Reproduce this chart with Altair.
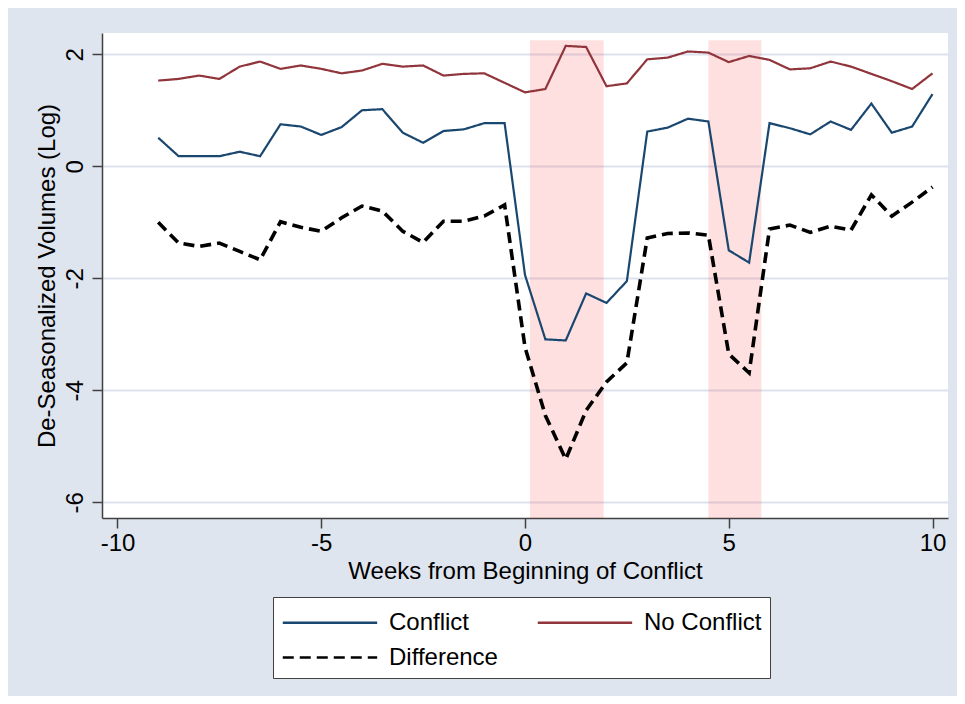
import altair as alt
import pandas as pd

weeks = [-9, -8.5, -8, -7.5, -7, -6.5, -6, -5.5, -5, -4.5, -4, -3.5, -3, -2.5, -2, -1.5, -1, -0.5,
         0, 0.5, 1, 1.5, 2, 2.5, 3, 3.5, 4, 4.5, 5, 5.5, 6, 6.5, 7, 7.5, 8, 8.5, 9, 9.5, 10]

conflict = [0.51, 0.18, 0.18, 0.18, 0.26, 0.18, 0.75, 0.71, 0.56, 0.70, 1.00, 1.02, 0.60, 0.42, 0.63, 0.66, 0.77, 0.77,
            -1.94, -3.09, -3.11, -2.27, -2.44, -2.05, 0.62, 0.69, 0.85, 0.80, -1.50, -1.72, 0.77, 0.68, 0.57, 0.80,
            0.65, 1.12, 0.60, 0.71, 1.29]

no_conflict = [1.53, 1.56, 1.62, 1.56, 1.78, 1.87, 1.74, 1.80, 1.74, 1.66, 1.71, 1.83, 1.78, 1.80, 1.62, 1.65, 1.66, 1.49,
               1.32, 1.38, 2.15, 2.13, 1.43, 1.48, 1.91, 1.94, 2.05, 2.03, 1.86, 1.97, 1.90, 1.73, 1.75, 1.87,
               1.78, 1.65, 1.52, 1.38, 1.66]

difference = [-1.00, -1.37, -1.43, -1.37, -1.52, -1.67, -0.99, -1.09, -1.16, -0.92, -0.71, -0.80, -1.16, -1.36, -0.98, -0.98, -0.89, -0.69,
              -3.23, -4.45, -5.23, -4.36, -3.85, -3.51, -1.28, -1.20, -1.19, -1.23, -3.35, -3.69, -1.12, -1.05, -1.18, -1.07,
              -1.14, -0.51, -0.89, -0.64, -0.37]

series_names = ["Conflict", "No Conflict", "Difference"]
series_colors = ["#1a476f", "#90353b", "#000000"]
series_dash = [[1, 0], [1, 0], [11, 6]]

shade_start = [0.12, 4.5]
shade_end = [1.93, 5.8]
shade_top = [2.25, 2.25]

x_domain = [-10.38, 10.38]
y_domain = [-6.28, 2.38]
x_ticks = [-10, -5, 0, 5, 10]
y_ticks = [-6, -4, -2, 0, 2]

rows = []
for name, vals in zip(series_names, [conflict, no_conflict, difference]):
    for w, v in zip(weeks, vals):
        rows.append({"week": w, "value": v, "series": name})
df = pd.DataFrame(rows)

shade_df = pd.DataFrame({"x1": shade_start, "x2": shade_end, "top": shade_top,
                         "bottom": [y_domain[0]] * len(shade_start)})

FONT = "Liberation Sans"

x_scale = alt.Scale(domain=x_domain, nice=False, zero=False)
y_scale = alt.Scale(domain=y_domain, nice=False, zero=False)

x_axis = alt.Axis(values=x_ticks, title="Weeks from Beginning of Conflict",
                  grid=False, tickSize=10, labelPadding=3, titlePadding=4,
                  labelExpr="'' + datum.value")
y_axis = alt.Axis(values=y_ticks, title="De-Seasonalized Volumes (Log)",
                  grid=True, tickSize=10, labelAngle=270, labelAlign="center",
                  labelBaseline="alphabetic", labelPadding=10, titlePadding=4,
                  labelExpr="'' + datum.value")

shade = alt.Chart(shade_df).mark_rect(color="#ff0000", opacity=0.12).encode(
    x=alt.X("x1:Q", scale=x_scale, axis=x_axis, title="Weeks from Beginning of Conflict"),
    x2="x2:Q",
    y=alt.Y("bottom:Q", scale=y_scale, axis=y_axis, title="De-Seasonalized Volumes (Log)"),
    y2="top:Q",
)

legend = alt.Legend(title=None, orient="none", legendX=171, legendY=564,
                    direction="horizontal", columns=2,
                    symbolType="M-1,0H5", symbolSize=990,
                    symbolStrokeWidth=2.6, labelFontSize=24, labelFont=FONT,
                    labelColor="#000000", labelOffset=73, columnPadding=34,
                    rowPadding=5, padding=8, fillColor="#ffffff",
                    strokeColor="#404040", labelLimit=300)

base = alt.Chart(df).encode(
    x=alt.X("week:Q", scale=x_scale, axis=x_axis, title="Weeks from Beginning of Conflict"),
    y=alt.Y("value:Q", scale=y_scale, axis=y_axis, title="De-Seasonalized Volumes (Log)"),
    color=alt.Color("series:N", scale=alt.Scale(domain=series_names, range=series_colors),
                    legend=legend),
    strokeDash=alt.StrokeDash("series:N",
                              scale=alt.Scale(domain=series_names, range=series_dash),
                              legend=legend),
    order=alt.Order("week:Q"),
)

solid_lines = base.transform_filter(alt.datum.series != "Difference").mark_line(strokeWidth=2.2)
diff_line = base.transform_filter(alt.datum.series == "Difference").mark_line(strokeWidth=3.6)

chart = alt.layer(shade, solid_lines, diff_line).properties(
    width=846,
    height=485,
    padding={"left": 94, "top": 25, "right": 9, "bottom": 178},
    autosize=alt.AutoSizeParams(type="none"),
    background="#dfe5ef",
).configure_view(
    fill="#ffffff",
    stroke=None,
).configure_axis(
    labelFont=FONT,
    titleFont=FONT,
    labelFontSize=24,
    titleFontSize=24,
    titleFontWeight="normal",
    labelColor="#000000",
    titleColor="#000000",
    domainColor="#404040",
    domainWidth=1.5,
    tickColor="#404040",
    tickWidth=1.5,
    gridColor="#dce3ee",
    gridWidth=2,
).configure_axisY(
    labelAngle=270,
)

chart.save("out.html", embed_options={"renderer": "svg", "actions": False})
